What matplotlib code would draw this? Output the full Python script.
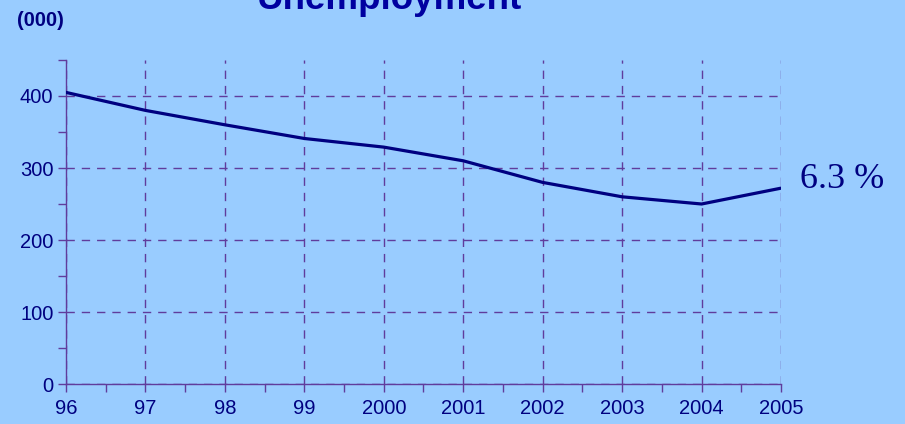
import matplotlib
matplotlib.use("Agg")
import matplotlib.pyplot as plt
from matplotlib.ticker import MultipleLocator

years = ['96', '97', '98', '99', '2000', '2001', '2002', '2003', '2004', '2005']
unemployed = [405, 380, 360, 341, 329, 310, 280, 260, 250, 272]
last_rate = '6.3 %'

bg = '#99CCFF'
navy = '#000080'
grid_col = '#603C9C'

plt.rcParams['font.family'] = ['Liberation Sans', 'DejaVu Sans']

fig = plt.figure(figsize=(9.05, 4.24), dpi=100, facecolor=bg)
ax = fig.add_axes([0.0729, 0.0943, 0.7901, 0.7642])
ax.set_facecolor(bg)

x = list(range(len(years)))
ax.plot(x, unemployed, color=navy, lw=2.3, solid_joinstyle='round', zorder=3)

ax.set_xlim(0, len(years) - 1)
ax.set_ylim(0, 450)
ax.set_xticks(x)
ax.set_xticklabels(years)
ax.xaxis.set_minor_locator(MultipleLocator(0.5))
ax.yaxis.set_minor_locator(MultipleLocator(50))
ax.set_yticks([0, 100, 200, 300, 400])

for s in ['top', 'right']:
    ax.spines[s].set_visible(False)
for s in ['left', 'bottom']:
    ax.spines[s].set_color(grid_col)
    ax.spines[s].set_linewidth(1.0)

ax.tick_params(which='both', direction='out', color=grid_col, length=6, width=1)
ax.tick_params(axis='both', which='major', labelsize=14.5, labelcolor=navy)
ax.tick_params(axis='x', pad=5)
ax.tick_params(axis='y', pad=3)

ax.grid(True, which='major', color=grid_col, ls=(0, (6, 5)), lw=1.0)
ax.set_axisbelow(True)

# title sits partly above the top edge, as in the original slide
fig.text(0.43, 1 - 9 / 424, 'Unemployment', ha='center', va='baseline',
         fontsize=26.5, fontweight='bold', color='#0000A0')
fig.text(0.019, 1 - 20 / 424, '(000)', ha='left', va='center',
         fontsize=14.5, fontweight='bold', color=navy)
ax.annotate(last_rate, xy=(x[-1], unemployed[-1]), xytext=(14, 6),
            textcoords='offset points', ha='left', va='center',
            fontsize=26, color=navy, family='Liberation Serif',
            annotation_clip=False)

fig.savefig('out.png', dpi=100, facecolor=bg)
